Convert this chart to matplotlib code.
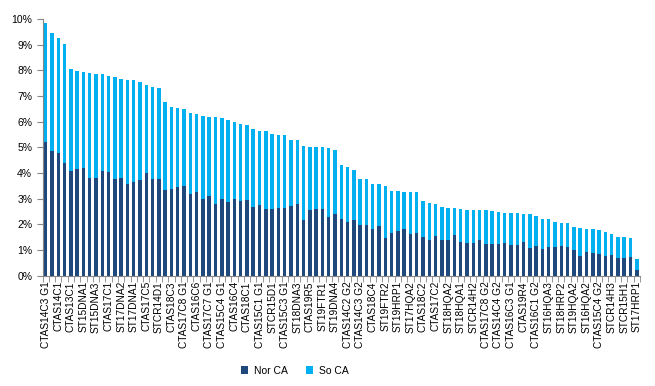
import numpy as np
import matplotlib
matplotlib.use("Agg")
import matplotlib.pyplot as plt
from matplotlib.ticker import PercentFormatter, MultipleLocator

# labels shown on every other bar
labels = ["CTAS14C3 G1", "CTAS14C1", "CTAS13C1", "ST15DNA1", "ST15DNA3", "CTAS17C1",
          "ST17DNA2", "ST17DNA1", "CTAS17C5", "STCR14D1", "CTAS18C3", "CTAS17C8 G1",
          "CTAS16C6", "CTAS17C7 G1", "CTAS15C4 G1", "CTAS16C4", "CTAS18C1", "CTAS15C1 G1",
          "STCR15D1", "CTAS15C3 G1", "ST18DNA3", "CTAS19R5", "ST19FTR1", "ST19DNA4",
          "CTAS14C2 G2", "CTAS14C3 G2", "CTAS18C4", "ST19FTR2", "ST19HRP1", "ST17HQA2",
          "CTAS18C2", "CTAS17C2", "ST18HQA2", "ST18HQA1", "STCR14H2", "CTAS17C8 G2",
          "CTAS14C4 G2", "CTAS16C3 G1", "CTAS19R4", "CTAS16C1 G2", "ST16HQA3", "ST18HRP2",
          "ST19HQA2", "ST16HQA2", "CTAS15C4 G2", "STCR14H3", "STCR15H1", "ST17HRP1"]

total = [9.84, 9.45, 9.26, 9.03, 8.04, 7.97, 7.94, 7.90, 7.86, 7.86,
         7.78, 7.74, 7.66, 7.62, 7.62, 7.55, 7.43, 7.35, 7.31, 6.77,
         6.57, 6.53, 6.49, 6.34, 6.30, 6.22, 6.18, 6.18, 6.14, 6.06,
         5.99, 5.91, 5.87, 5.71, 5.64, 5.64, 5.52, 5.48, 5.48, 5.29,
         5.29, 5.05, 5.01, 5.01, 5.01, 4.97, 4.90, 4.31, 4.23, 4.12,
         3.77, 3.77, 3.57, 3.57, 3.49, 3.30, 3.30, 3.26, 3.26, 3.26,
         2.91, 2.83, 2.79, 2.68, 2.64, 2.64, 2.60, 2.56, 2.56, 2.56,
         2.56, 2.52, 2.48, 2.44, 2.44, 2.44, 2.40, 2.40, 2.32, 2.21,
         2.21, 2.09, 2.05, 2.05, 1.90, 1.86, 1.82, 1.82, 1.78, 1.70,
         1.62, 1.51, 1.51, 1.47, 0.65]

nor_ca = [5.21, 4.86, 4.78, 4.39, 4.08, 4.16, 4.19, 3.81, 3.81, 4.08,
          4.04, 3.77, 3.81, 3.57, 3.65, 3.73, 4.00, 3.77, 3.77, 3.34,
          3.38, 3.45, 3.49, 3.18, 3.26, 2.99, 3.10, 2.79, 2.99, 2.87,
          2.99, 2.91, 2.95, 2.68, 2.75, 2.60, 2.60, 2.64, 2.64, 2.71,
          2.79, 2.17, 2.56, 2.60, 2.60, 2.29, 2.40, 2.21, 2.09, 2.17,
          1.97, 1.97, 1.82, 1.94, 1.47, 1.66, 1.74, 1.82, 1.62, 1.66,
          1.51, 1.39, 1.55, 1.39, 1.39, 1.58, 1.31, 1.27, 1.27, 1.39,
          1.23, 1.23, 1.23, 1.27, 1.19, 1.19, 1.31, 1.08, 1.16, 1.04,
          1.12, 1.12, 1.16, 1.12, 1.00, 0.77, 0.92, 0.88, 0.84, 0.77,
          0.81, 0.69, 0.69, 0.73, 0.22]

so_ca = [t - n for t, n in zip(total, nor_ca)]

plt.rcParams['font.family'] = ['Liberation Sans', 'DejaVu Sans']

fig = plt.figure(figsize=(6.55, 3.86), dpi=100)
ax = fig.add_axes([0.065, 0.286, 0.912, 0.665])

x = np.arange(len(total))
ax.bar(x, nor_ca, width=0.55, color="#1F497D", label="Nor CA")
ax.bar(x, so_ca, width=0.55, bottom=nor_ca, color="#00B0F0", label="So CA")

ax.set_xlim(-0.5, len(total) - 0.5)
ax.set_ylim(0, 10)
ax.yaxis.set_major_locator(MultipleLocator(1))
ax.yaxis.set_major_formatter(PercentFormatter(decimals=0))

ax.set_xticks(x[::2])
ax.set_xticklabels(labels, rotation=90, fontsize=7.3)
ax.set_xticks(np.arange(-0.5, len(total)), minor=True)
ax.tick_params(axis='x', which='major', length=0, pad=4)
ax.tick_params(axis='x', which='minor', length=4, color="#868686")
ax.tick_params(axis='y', length=4, color="#868686", labelsize=7.5)

for s in ["top", "right"]:
    ax.spines[s].set_visible(False)
ax.spines["left"].set_color("#868686")
ax.spines["bottom"].set_color("#868686")

fig.legend(loc="center", bbox_to_anchor=(0.45, 0.04), ncol=2, frameon=False,
           fontsize=7.5, handlelength=0.7, handleheight=0.7, columnspacing=1.8,
           handletextpad=0.5)

fig.savefig("out.png", dpi=100)
